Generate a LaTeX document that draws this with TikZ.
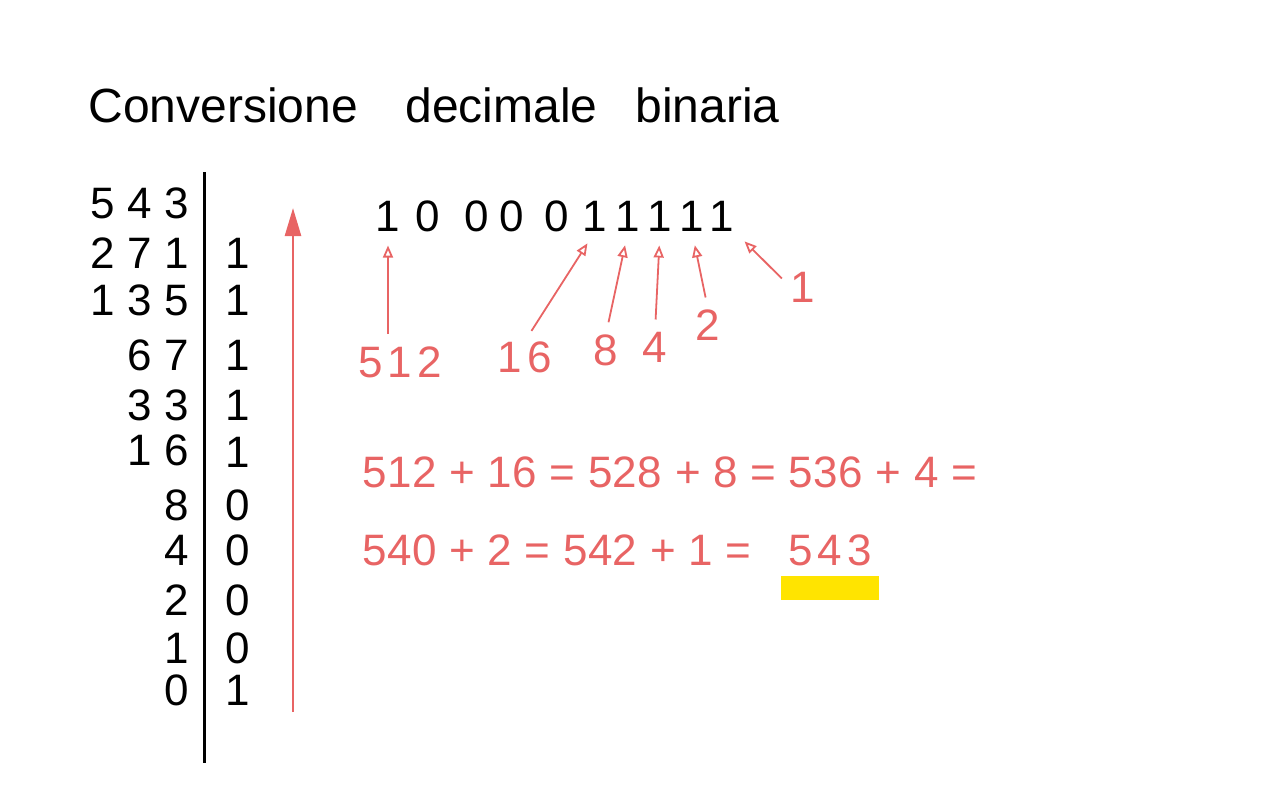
\documentclass[tikz,border=0pt]{standalone}
\usepackage{fontspec}
\setmainfont{Liberation Sans}
\usetikzlibrary{arrows.meta, positioning}
\definecolor{penred}{RGB}{232,100,100}
\definecolor{marker}{RGB}{255,228,0}
\begin{document}
\begin{tikzpicture}[
    x=0.5pt, y=-0.5pt,
    every node/.style={inner sep=0pt},
    title/.style={font=\fontsize{24}{24}\selectfont, anchor=base west},
    ink/.style={font=\fontsize{22}{22}\selectfont\addfontfeature{LetterSpace=28}},
    redink/.style={font=\fontsize{22}{22}\selectfont\addfontfeature{LetterSpace=12}, text=penred},
    sumline/.style={font=\fontsize{22}{22}\selectfont\addfontfeature{LetterSpace=1}, text=penred, anchor=west},
    rule/.style={line width=1.5pt},
    bigarrow/.style={draw=penred, line width=1.3pt, -{Triangle[length=14pt, width=8pt]}},
    pointer/.style={draw=penred, line width=0.9pt, -{Triangle[open, length=6pt, width=5pt]}, shorten <=6pt, shorten >=7pt},
    hilite/.style={fill=marker, minimum width=49pt, minimum height=12pt}
]
\useasboundingbox (0,0) rectangle (1280,800);

\node[title] (t1) at (88,122) {Conversione};
\node[title] (t2) at (405,122) {decimale};
\node[title] (t3) at (635,122) {binaria};

\foreach \n/\y [count=\i] in {543/203, 271/253, 135/300, 67/355, 33/405, 16/450, 8/505, 4/550, 2/600, 1/648, 0/690}
    \node[ink, anchor=east] (q\i) at (189,\y) {\n};
\foreach \r/\y [count=\i] in {1/253, 1/300, 1/355, 1/405, 1/452, 0/505, 0/550, 0/600, 0/648, 1/690}
    \node[ink] (r\i) at (238,\y) {\r};

\coordinate (top) at (204,172);
\coordinate (bottom) at (204,763);
\draw[rule] (top) -- (bottom);

\coordinate (up0) at (293,712);
\coordinate (up1) at (293,208);
\draw[bigarrow] (up0) -- (up1);

\foreach \d/\x [count=\i] in {1/388, 0/428, 0/477, 0/512, 0/557, 1/595, 1/628, 1/660, 1/692, 1/722}
    \node[ink] (b\i) at (\x,216) {\d};

\node[redink] (w512) at (400,362) {512};
\node[redink] (w16) at (525,357) {16};
\node[redink] (w8) at (606,350) {8};
\node[redink] (w4) at (655,347) {4};
\node[redink] (w2) at (708,325) {2};
\node[redink] (w1) at (803,287) {1};

\draw[pointer] (w512.north -| b1.south) -- (b1.south);
\draw[pointer] (w16.north) -- (b6.south);
\draw[pointer] (w8.north) -- (b7.south);
\draw[pointer] (w4.north) -- (b8.south);
\draw[pointer] (w2.north) -- (b9.south);
\draw[pointer] (w1.west) -- (b10.south east);

\node[sumline] (sum1) at (362,472) {512 + 16 = 528 + 8 = 536 + 4 =};
\node[sumline] (sum2) at (362,550) {540 + 2 = 542 + 1 =};
\node[redink, right=18pt of sum2] (res) {543};
\node[hilite, below=5pt of res] (mark) {};
\end{tikzpicture}
\end{document}
